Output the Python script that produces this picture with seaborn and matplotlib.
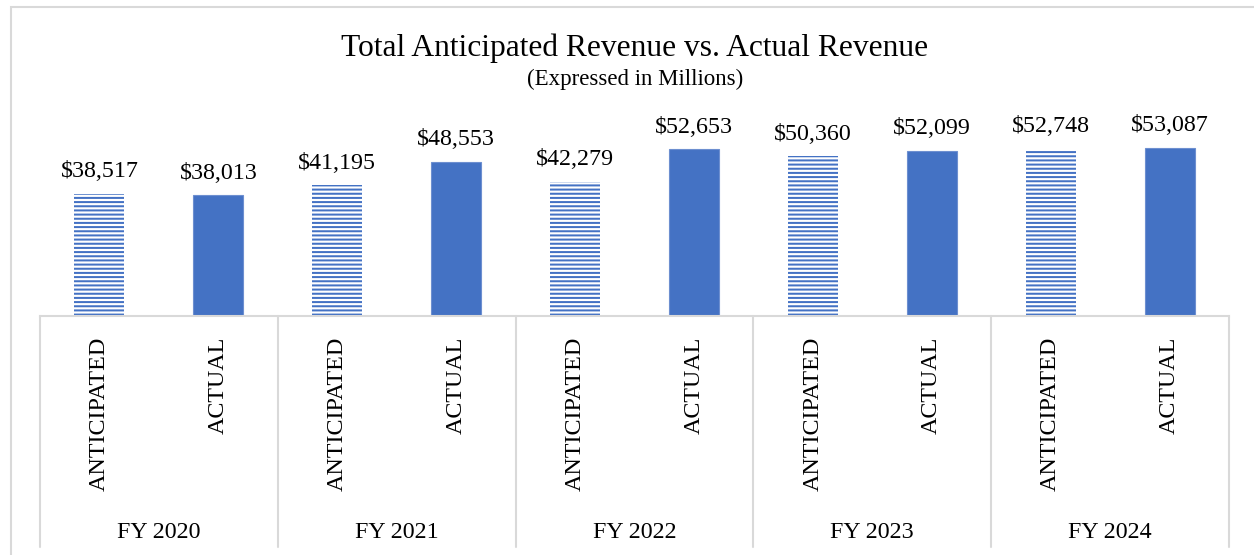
import numpy as np
import pandas as pd
import seaborn as sns
import matplotlib.pyplot as plt
from matplotlib.patches import Rectangle
from matplotlib.lines import Line2D

# data (millions of dollars)
years = ['FY 2020', 'FY 2021', 'FY 2022', 'FY 2023', 'FY 2024']
kinds = ['ANTICIPATED', 'ACTUAL']
anticipated = [38517, 41195, 42279, 50360, 52748]
actual = [38013, 48553, 52653, 52099, 53087]

blue = '#4472C4'
grid_gray = '#d9d9d9'

rows = []
for i, yr in enumerate(years):
    rows.append({'slot': f'{yr} A', 'year': yr, 'kind': kinds[0], 'value': anticipated[i]})
    rows.append({'slot': f'{yr} B', 'year': yr, 'kind': kinds[1], 'value': actual[i]})
df = pd.DataFrame(rows)

sns.set_theme(style='white')
plt.rcParams['font.family'] = ['Liberation Serif', 'DejaVu Serif']
plt.rcParams['text.color'] = 'black'
plt.rcParams['xtick.color'] = 'black'
plt.rcParams['hatch.linewidth'] = 1.45
plt.rcParams['hatch.color'] = blue

fig = plt.figure(figsize=(12.54, 5.55), dpi=100)
W, H = 1254, 555
ax_left, ax_right, ax_bottom, ax_top = 40, 1229, 315.5, 126
ax = fig.add_axes([ax_left / W, 1 - ax_bottom / H,
                   (ax_right - ax_left) / W, (ax_bottom - ax_top) / H])

sns.barplot(data=df, x='slot', y='value', color=blue, width=0.42,
            saturation=1, ax=ax, errorbar=None)

for i, bar in enumerate(ax.patches):
    if df['kind'].iloc[i] == 'ANTICIPATED':
        bar.set_facecolor('white')
        bar.set_edgecolor(blue)
        bar.set_linewidth(0)
        bar.set_hatch('----')
        bar.set_antialiased(False)
    else:
        bar.set_edgecolor('#6d8fd0')
        bar.set_linewidth(0.8)

ax.set_ylim(0, 60000)
ax.set_xlim(-0.5, len(df) - 0.5)

# value labels
for i, v in enumerate(df['value']):
    ax.annotate(f'${v:,.0f}', (i, v), xytext=(0, 12), textcoords='offset points',
                ha='center', va='baseline', fontsize=17.3, color='black',
                annotation_clip=False)

ax.set_yticks([])
ax.set_ylabel('')
ax.set_xlabel('')
ax.set_xticks(range(len(df)))
ax.set_xticklabels(df['kind'], rotation=90, fontsize=17.3, va='top', ha='center',
                   color='black')
ax.tick_params(axis='x', length=0, pad=15)
for s in ['left', 'right', 'top']:
    ax.spines[s].set_visible(False)
ax.spines['bottom'].set_color(grid_gray)
ax.spines['bottom'].set_linewidth(1.5)

# category table lines and year labels
trans = ax.get_xaxis_transform()
y_low = (ax_bottom - 547) / (ax_bottom - ax_top)
for k in range(len(years) + 1):
    xb = 2 * k - 0.5
    ax.add_line(Line2D([xb, xb], [0, y_low], transform=trans, color=grid_gray,
                       lw=1.5, clip_on=False))
y_year = (ax_bottom - 532) / (ax_bottom - ax_top)
for k, yr in enumerate(years):
    ax.text(2 * k + 0.5, y_year, yr, transform=trans, ha='center', va='center',
            fontsize=17.3, color='black')

# titles
fig.text(635 / W, 1 - 48 / H, 'Total Anticipated Revenue vs. Actual Revenue',
         ha='center', va='center', fontsize=22.7, color='black')
fig.text(635 / W, 1 - 79 / H, '(Expressed in Millions)',
         ha='center', va='center', fontsize=16.5, color='black')

# outer chart border (runs off the right and bottom edges)
fig.add_artist(Rectangle((11 / W, -0.1), 1.2, 1.1 - 7 / H, transform=fig.transFigure,
                         fill=False, edgecolor=grid_gray, lw=1.5))

fig.savefig('out.png', dpi=100)
